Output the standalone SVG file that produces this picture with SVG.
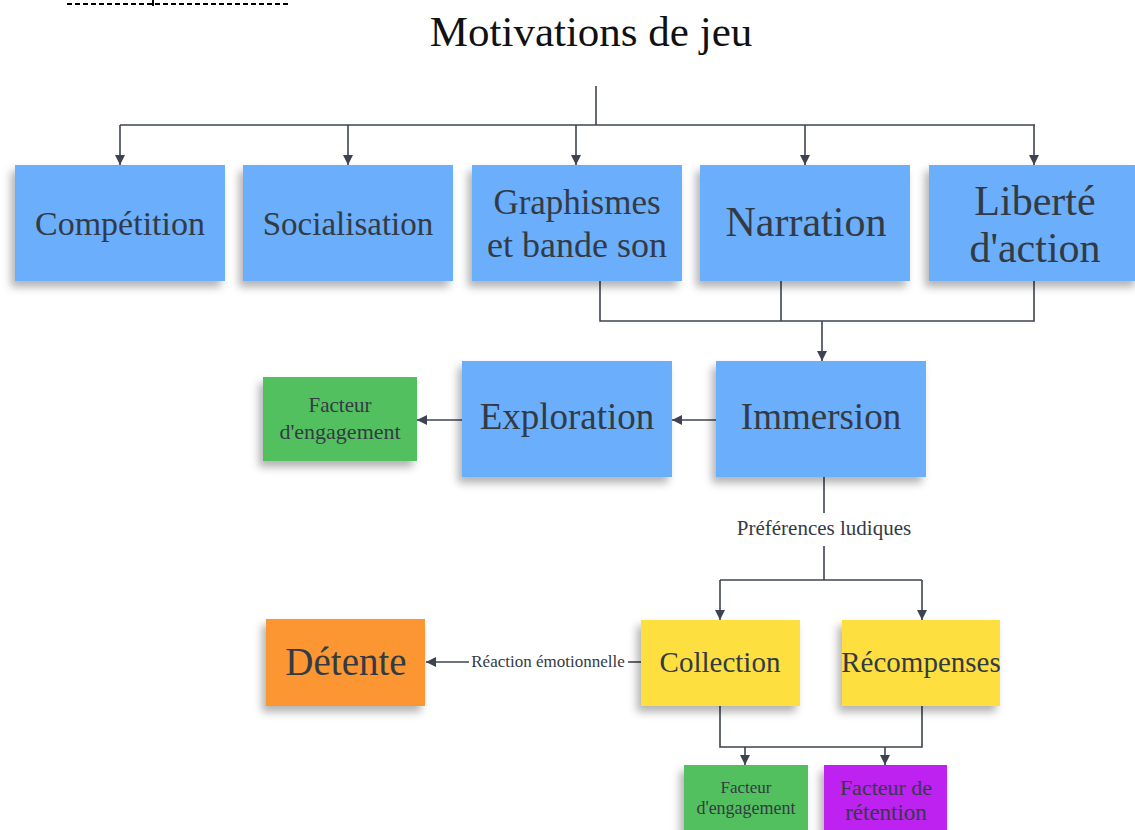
<svg xmlns="http://www.w3.org/2000/svg" width="1135" height="830" viewBox="0 0 1135 830">
<style>
.t{font-family:"Liberation Serif","DejaVu Serif",serif;fill:#343a44;text-anchor:middle}
.c{fill:none;stroke:#3d4350;stroke-width:1.6}
.blue{fill:#6aaefc}
.green{fill:#52c05f}
.orange{fill:#fb9632}
.yellow{fill:#fde03f}
.purple{fill:#bd22f0}
</style>
<defs>
<filter id="sh" x="-20%" y="-20%" width="140%" height="150%">
<feDropShadow dx="-4" dy="6" stdDeviation="4" flood-color="#000" flood-opacity="0.3"/>
</filter>
<marker id="ar" viewBox="0 0 10 10" refX="10" refY="5" markerWidth="10" markerHeight="10" markerUnits="userSpaceOnUse" orient="auto">
<path d="M0,0 L10,5 L0,10 z" fill="#3d4350"/>
</marker>
</defs>
<rect width="1135" height="830" fill="#fff"/>
<line x1="67" y1="4" x2="291" y2="4" stroke="#000" stroke-width="2" stroke-dasharray="5,3"/>
<line x1="153" y1="0" x2="153" y2="6" stroke="#000" stroke-width="2"/>
<text class="t" x="591" y="46" font-size="43" style="fill:#111">Motivations de jeu</text>

<g id="connectors">
<path class="c" d="M596,86 V125"/>
<path class="c" d="M120,125 H1035"/>
<path class="c" d="M120,125 V165" marker-end="url(#ar)"/>
<path class="c" d="M348,125 V165" marker-end="url(#ar)"/>
<path class="c" d="M576,125 V165" marker-end="url(#ar)"/>
<path class="c" d="M805,125 V165" marker-end="url(#ar)"/>
<path class="c" d="M1034,125 V165" marker-end="url(#ar)"/>
<path class="c" d="M600,281 V321 H1034 V281"/>
<path class="c" d="M781,281 V321"/>
<path class="c" d="M822,321 V361" marker-end="url(#ar)"/>
<path class="c" d="M716,420 H672" marker-end="url(#ar)"/>
<path class="c" d="M462,420 H417" marker-end="url(#ar)"/>
<path class="c" d="M824,477 V513"/>
<path class="c" d="M824,546 V580"/>
<path class="c" d="M720,580 H922"/>
<path class="c" d="M720,580 V620" marker-end="url(#ar)"/>
<path class="c" d="M922,580 V620" marker-end="url(#ar)"/>
<path class="c" d="M641,662 H628"/>
<path class="c" d="M469,662 H426" marker-end="url(#ar)"/>
<path class="c" d="M720,706 V747 H922 V706"/>
<path class="c" d="M745,747 V765" marker-end="url(#ar)"/>
<path class="c" d="M885,747 V765" marker-end="url(#ar)"/>
<text class="t" x="824" y="535" font-size="21">Préférences ludiques</text>
<text class="t" x="548" y="667" font-size="17">Réaction émotionnelle</text>
</g>

<g id="competition"><rect class="blue" x="15" y="165" width="210" height="116" filter="url(#sh)"/><text class="t" x="120" y="235" font-size="34">Compétition</text></g>
<g id="socialisation"><rect class="blue" x="243" y="165" width="210" height="116" filter="url(#sh)"/><text class="t" x="348" y="235" font-size="33">Socialisation</text></g>
<g id="graphismes"><rect class="blue" x="472" y="165" width="210" height="116" filter="url(#sh)"/><text class="t" x="577" y="214" font-size="35">Graphismes</text><text class="t" x="577" y="257" font-size="36">et bande son</text></g>
<g id="narration"><rect class="blue" x="700" y="165" width="210" height="116" filter="url(#sh)"/><text class="t" x="806" y="236" font-size="42">Narration</text></g>
<g id="liberte"><rect class="blue" x="929" y="165" width="210" height="116" filter="url(#sh)"/><text class="t" x="1035" y="215" font-size="42">Liberté</text><text class="t" x="1035" y="262" font-size="42">d'action</text></g>
<g id="exploration"><rect class="blue" x="462" y="361" width="210" height="116" filter="url(#sh)"/><text class="t" x="567" y="429" font-size="37">Exploration</text></g>
<g id="immersion"><rect class="blue" x="716" y="361" width="210" height="116" filter="url(#sh)"/><text class="t" x="821" y="429" font-size="37">Immersion</text></g>
<g id="facteur-engagement-1"><rect class="green" x="263" y="377" width="154" height="84" filter="url(#sh)"/><text class="t" x="340" y="412" font-size="21">Facteur</text><text class="t" x="340" y="439" font-size="22">d'engagement</text></g>
<g id="detente"><rect class="orange" x="266" y="619" width="159" height="87" filter="url(#sh)"/><text class="t" x="346" y="675" font-size="39">Détente</text></g>
<g id="collection"><rect class="yellow" x="641" y="620" width="159" height="86" filter="url(#sh)"/><text class="t" x="720" y="672" font-size="29">Collection</text></g>
<g id="recompenses"><rect class="yellow" x="842" y="620" width="158" height="86" filter="url(#sh)"/><text class="t" x="921" y="672" font-size="29">Récompenses</text></g>
<g id="facteur-engagement-2"><rect class="green" x="684" y="765" width="124" height="70" filter="url(#sh)"/><text class="t" x="746" y="793" font-size="17">Facteur</text><text class="t" x="746" y="814" font-size="18">d'engagement</text></g>
<g id="facteur-retention"><rect class="purple" x="824" y="765" width="123" height="70" filter="url(#sh)"/><text class="t" x="886" y="795" font-size="22">Facteur de</text><text class="t" x="886" y="820" font-size="23">rétention</text></g>
</svg>
